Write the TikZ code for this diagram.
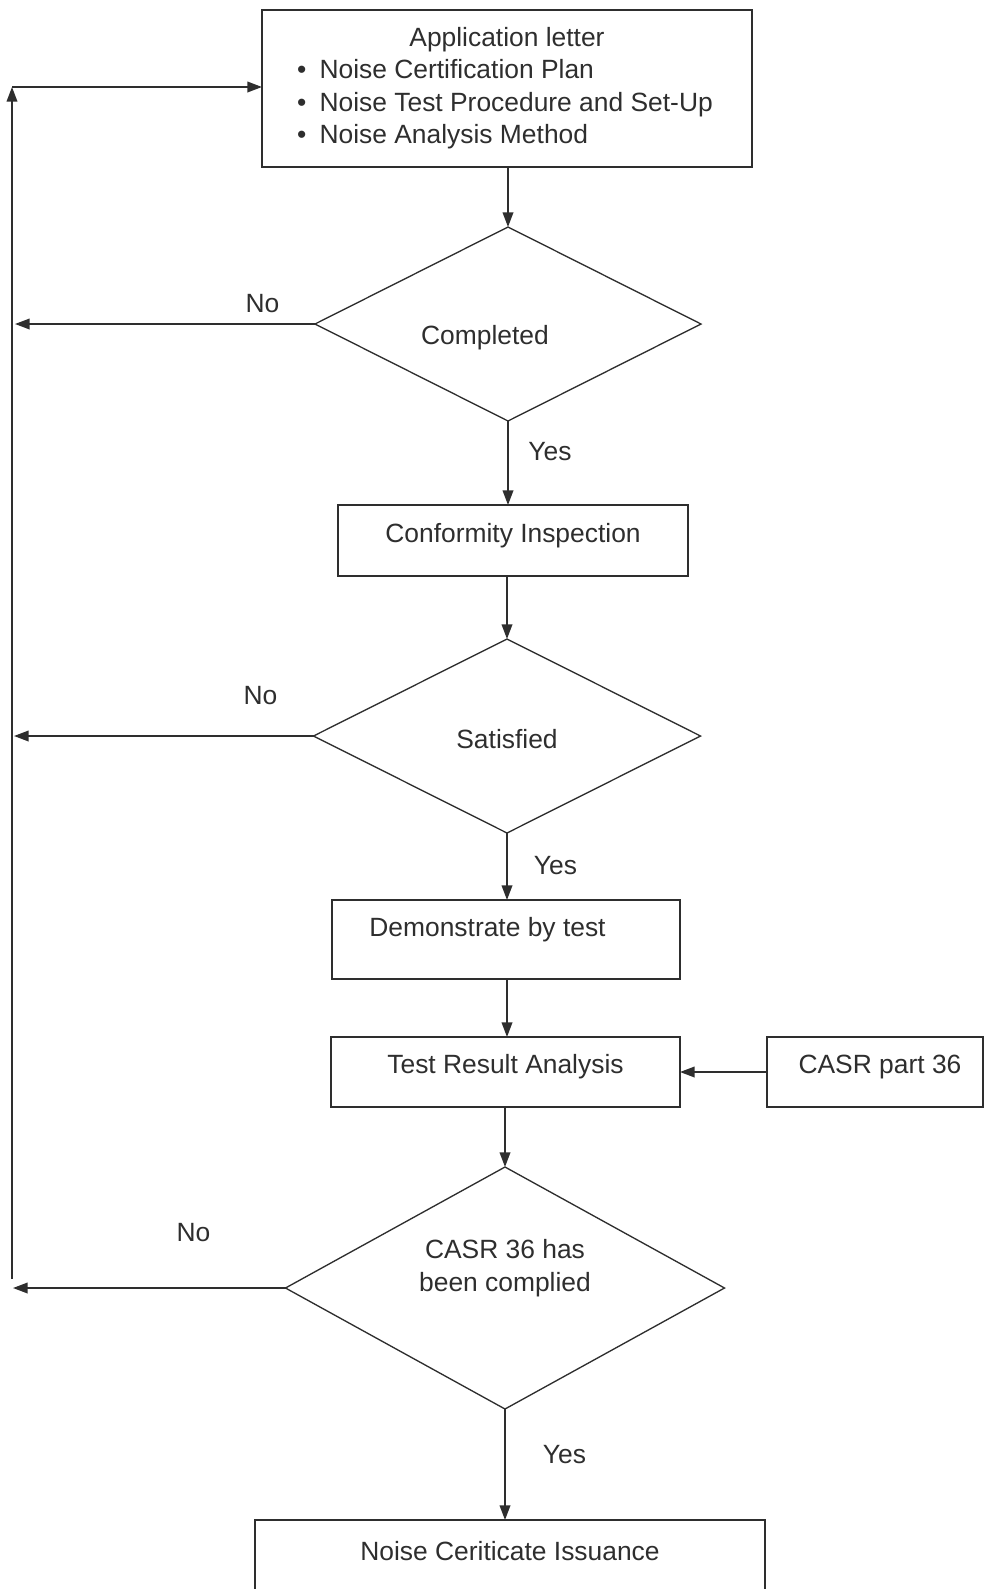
\documentclass[tikz,border=0pt]{standalone}
\usepackage{fontspec}
\setmainfont{Liberation Sans}
\usetikzlibrary{shapes.geometric,arrows.meta}
\definecolor{ink}{HTML}{2E2E2E}
\begin{document}
\begin{tikzpicture}[x=0.75pt,y=-0.75pt,
  every node/.style={inner sep=0pt, outer sep=0pt, text=ink, font=\fontsize{19.8pt}{24.3pt}\selectfont},
  boxnode/.style={draw=ink, line width=1.2pt, rectangle},
  decnode/.style={draw=ink, line width=1pt, diamond},
  flow/.style={draw=ink, line width=1.2pt, -{Triangle[length=11pt,width=8pt]}},
  plainline/.style={draw=ink, line width=1.2pt}]
\useasboundingbox (0,0) rectangle (984,1589);

% shapes
\node[boxnode, minimum width=367.5pt, minimum height=117.75pt] (b1) at (507,88.5) {};
\node[decnode, minimum width=289.5pt, minimum height=145.5pt] (d1) at (508,324) {};
\node[boxnode, minimum width=262.5pt, minimum height=53.25pt] (b2) at (513,540.5) {};
\node[decnode, minimum width=290.25pt, minimum height=145.5pt] (d2) at (507,736) {};
\node[boxnode, minimum width=261pt, minimum height=59.25pt] (b3) at (506,939.5) {};
\node[boxnode, minimum width=261.75pt, minimum height=52.5pt] (b4) at (505.5,1072) {};
\node[boxnode, minimum width=162pt, minimum height=52.5pt] (b5) at (875,1072) {};
\node[decnode, minimum width=329.25pt, minimum height=181.5pt] (d3) at (505,1288) {};
\node[minimum width=382.5pt, minimum height=51.75pt] (b6) at (510,1554.5) {};
\draw[plainline] (b6.south west) -- (b6.north west) -- (b6.north east) -- (b6.south east);

% texts
\node (t1) at (507,39.5) {Application letter};
\node[anchor=west, align=left] (t1b) at (297,104.5)
  {\textbullet\hspace{10pt}Noise Certification Plan\\
   \textbullet\hspace{10pt}Noise Test Procedure and Set-Up\\
   \textbullet\hspace{10pt}Noise Analysis Method};
\node (td1) at (485,337.5) {Completed};
\node (tb2) at (513,536) {Conformity Inspection};
\node (td2) at (507,739) {Satisfied};
\node (tb3) at (487.5,930) {Demonstrate by test};
\node (tb4) at (505.5,1067) {Test Result Analysis};
\node (tb5) at (880,1067) {CASR part 36};
\node[align=center] (td3) at (505,1268) {CASR 36 has\\been complied};
\node (tb6) at (510,1551.5) {Noise Ceriticate Issuance};

\node (no1) at (262.5,304) {No};
\node (no2) at (260.5,696) {No};
\node (no3) at (193.5,1233) {No};
\node (yes1) at (550,452) {Yes};
\node (yes2) at (555.5,866) {Yes};
\node (yes3) at (564.5,1455) {Yes};

% return line coordinates
\coordinate (lbot) at (12,1279);
\coordinate (ltop) at (12,87);
\coordinate (e1) at (15,324);
\coordinate (e2) at (14,736);
\coordinate (e3) at (13,1288);

% connectors
\draw[flow] (b1.south -| d1.north) -- (d1.north);
\draw[flow] (d1.west) -- (e1);
\draw[flow] (d1.south) -- (d1.south |- b2.north);
\draw[flow] (d2.north |- b2.south) -- (d2.north);
\draw[flow] (d2.west) -- (e2);
\draw[flow] (d2.south) -- (d2.south |- b3.north);
\draw[flow] (d2.south |- b3.south) -- (d2.south |- b4.north);
\draw[flow] (b5.west) -- (b4.east);
\draw[flow] (d3.north |- b4.south) -- (d3.north);
\draw[flow] (d3.west) -- (e3);
\draw[flow] (d3.south) -- (d3.south |- b6.north);
\draw[flow] (lbot) -- (ltop);
\draw[flow] (ltop) -- (ltop -| b1.west);
\end{tikzpicture}
\end{document}
